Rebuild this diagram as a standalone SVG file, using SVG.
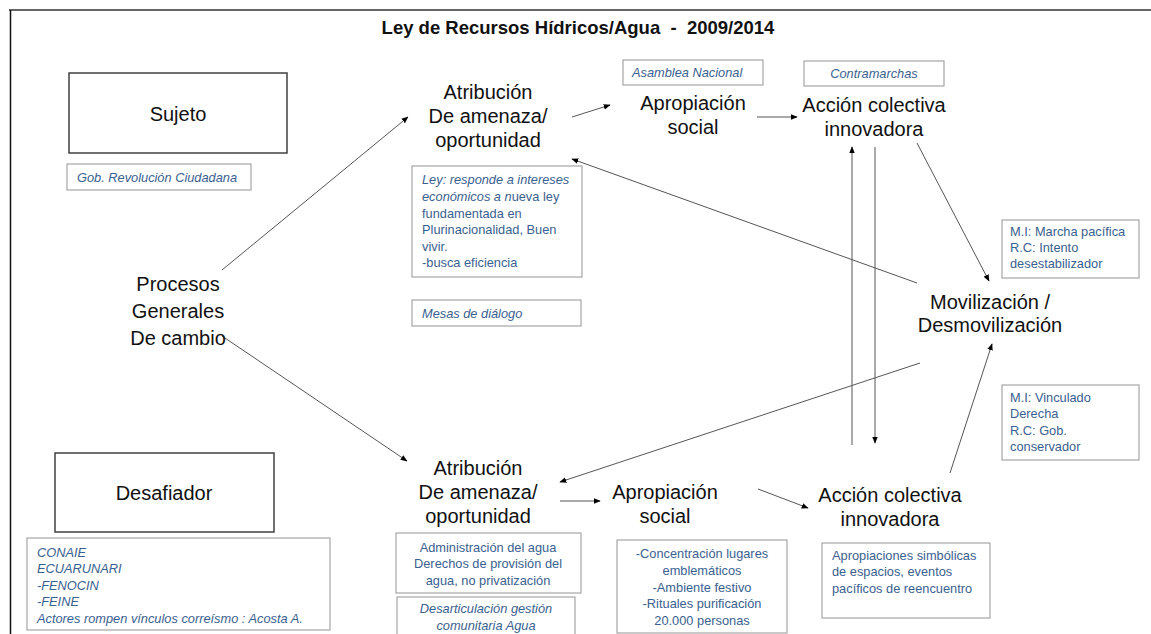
<svg xmlns="http://www.w3.org/2000/svg" width="1151" height="634" viewBox="0 0 1151 634">
<defs>
<marker id="ah" viewBox="0 0 10 10" refX="9" refY="5" markerWidth="7" markerHeight="7" markerUnits="userSpaceOnUse" orient="auto">
<path d="M0,1 L10,5 L0,9 z" fill="#000"/>
</marker>
<style>
.t{font-family:"Liberation Sans",Arial,sans-serif;fill:#111;}
.big{font-size:20px;text-anchor:middle;}
.note{font-family:"Liberation Sans",Arial,sans-serif;fill:#3a6190;font-size:12.8px;}
.it{font-style:italic;}
.nb{fill:#fff;stroke:#a6a6a6;stroke-width:1.2;}
.mb{fill:#fff;stroke:#404040;stroke-width:1.5;}
.c{fill:none;stroke:#555;stroke-width:1;}
.ca{fill:none;stroke:#555;stroke-width:1;marker-end:url(#ah);}
</style>
</defs>
<rect width="1151" height="634" fill="#fff"/>
<g id="frame">
<line x1="9" y1="10" x2="1151" y2="10" stroke="#666" stroke-width="2"/>
<line x1="10.5" y1="10" x2="10.5" y2="634" stroke="#111" stroke-width="1.5"/>
</g>
<text class="t" x="578" y="34" font-size="18.5" font-weight="bold" text-anchor="middle" style="white-space:pre" xml:space="preserve">Ley de Recursos Hídricos/Agua  -  2009/2014</text>

<g id="connectors">
<line class="ca" x1="222" y1="270" x2="408" y2="117"/>
<line class="ca" x1="222" y1="336" x2="407" y2="461"/>
<line class="ca" x1="572" y1="117" x2="610" y2="105"/>
<line class="ca" x1="757" y1="117" x2="797" y2="117"/>
<line class="ca" x1="852" y1="445" x2="852" y2="147"/>
<line class="ca" x1="875" y1="147" x2="875" y2="443"/>
<line class="ca" x1="917" y1="143" x2="989" y2="281"/>
<line class="ca" x1="917" y1="283" x2="572" y2="159"/>
<line class="ca" x1="920" y1="363" x2="560" y2="482"/>
<line class="ca" x1="560" y1="501" x2="600" y2="501"/>
<line class="ca" x1="758" y1="489" x2="808" y2="508"/>
<line class="ca" x1="950" y1="473" x2="992" y2="344"/>
</g>

<g id="sujeto">
<rect class="mb" x="69" y="73" width="218" height="80"/>
<text class="t big" x="178" y="121">Sujeto</text>
</g>
<g id="gob">
<rect class="nb" x="67" y="164" width="184" height="26"/>
<text class="note it" x="77" y="182">Gob. Revolución Ciudadana</text>
</g>
<g id="procesos">
<text class="t big" x="178" y="291">Procesos</text>
<text class="t big" x="178" y="318">Generales</text>
<text class="t big" x="178" y="345">De cambio</text>
</g>

<g id="atribucion1">
<text class="t big" x="488" y="99">Atribución</text>
<text class="t big" x="488" y="123">De amenaza/</text>
<text class="t big" x="488" y="147">oportunidad</text>
</g>
<g id="ley">
<rect class="nb" x="412" y="166" width="170" height="111"/>
<text class="note" x="422" y="184"><tspan class="it">Ley: responde a intereses</tspan></text>
<text class="note" x="422" y="201"><tspan class="it">económicos a n</tspan>ueva ley</text>
<text class="note" x="422" y="218">fundamentada en</text>
<text class="note" x="422" y="234">Plurinacionalidad, Buen</text>
<text class="note" x="422" y="251">vivir.</text>
<text class="note" x="422" y="267">-busca eficiencia</text>
</g>
<g id="mesas">
<rect class="nb" x="412" y="300" width="169" height="26"/>
<text class="note it" x="422" y="318">Mesas de diálogo</text>
</g>

<g id="asamblea">
<rect class="nb" x="623" y="60" width="140" height="25"/>
<text class="note it" x="632" y="77">Asamblea Nacional</text>
</g>
<g id="apropiacion1">
<text class="t big" x="693" y="110">Apropiación</text>
<text class="t big" x="693" y="134">social</text>
</g>

<g id="contramarchas">
<rect class="nb" x="804" y="61" width="140" height="25"/>
<text class="note it" x="874" y="78" text-anchor="middle">Contramarchas</text>
</g>
<g id="accion1">
<text class="t big" x="874" y="112">Acción colectiva</text>
<text class="t big" x="874" y="136">innovadora</text>
</g>

<g id="mi1">
<rect class="nb" x="1002" y="220" width="137" height="58"/>
<text class="note" x="1010" y="236">M.I: Marcha pacífica</text>
<text class="note" x="1010" y="252">R.C: Intento</text>
<text class="note" x="1010" y="268">desestabilizador</text>
</g>
<g id="movilizacion">
<text class="t big" x="990" y="309">Movilización /</text>
<text class="t big" x="990" y="332">Desmovilización</text>
</g>
<g id="mi2">
<rect class="nb" x="1002" y="385" width="137" height="75"/>
<text class="note" x="1010" y="402">M.I: Vinculado</text>
<text class="note" x="1010" y="418">Derecha</text>
<text class="note" x="1010" y="435">R.C: Gob.</text>
<text class="note" x="1010" y="451">conservador</text>
</g>

<g id="desafiador">
<rect class="mb" x="55" y="453" width="219" height="79"/>
<text class="t big" x="164" y="500">Desafiador</text>
</g>
<g id="conaie">
<rect class="nb" x="27" y="538" width="303" height="92"/>
<text class="note it" x="37" y="557">CONAIE</text>
<text class="note it" x="37" y="573">ECUARUNARI</text>
<text class="note it" x="37" y="590">-FENOCIN</text>
<text class="note it" x="37" y="606">-FEINE</text>
<text class="note it" x="37" y="623">Actores rompen vínculos correísmo : Acosta A.</text>
</g>

<g id="atribucion2">
<text class="t big" x="478" y="475">Atribución</text>
<text class="t big" x="478" y="499">De amenaza/</text>
<text class="t big" x="478" y="523">oportunidad</text>
</g>
<g id="admin">
<rect class="nb" x="396" y="533" width="185" height="60"/>
<text class="note" x="488" y="552" text-anchor="middle">Administración del agua</text>
<text class="note" x="488" y="568" text-anchor="middle">Derechos de provisión del</text>
<text class="note" x="488" y="585" text-anchor="middle">agua, no privatización</text>
</g>
<g id="desarticulacion">
<rect class="nb" x="397" y="597" width="178" height="45"/>
<text class="note it" x="486" y="613" text-anchor="middle">Desarticulación gestión</text>
<text class="note it" x="486" y="630" text-anchor="middle">comunitaria Agua</text>
</g>

<g id="apropiacion2">
<text class="t big" x="665" y="499">Apropiación</text>
<text class="t big" x="665" y="523">social</text>
</g>
<g id="concentracion">
<rect class="nb" x="617" y="540" width="170" height="93"/>
<text class="note" x="702" y="558" text-anchor="middle">-Concentración lugares</text>
<text class="note" x="702" y="575" text-anchor="middle">emblemáticos</text>
<text class="note" x="702" y="592" text-anchor="middle">-Ambiente festivo</text>
<text class="note" x="702" y="608" text-anchor="middle">-Rituales purificación</text>
<text class="note" x="702" y="625" text-anchor="middle">20.000 personas</text>
</g>

<g id="accion2">
<text class="t big" x="890" y="502">Acción colectiva</text>
<text class="t big" x="890" y="526">innovadora</text>
</g>
<g id="apropiaciones">
<rect class="nb" x="822" y="543" width="168" height="75"/>
<text class="note" x="832" y="560">Apropiaciones simbólicas</text>
<text class="note" x="832" y="576">de espacios, eventos</text>
<text class="note" x="832" y="593">pacíficos de reencuentro</text>
</g>
</svg>
